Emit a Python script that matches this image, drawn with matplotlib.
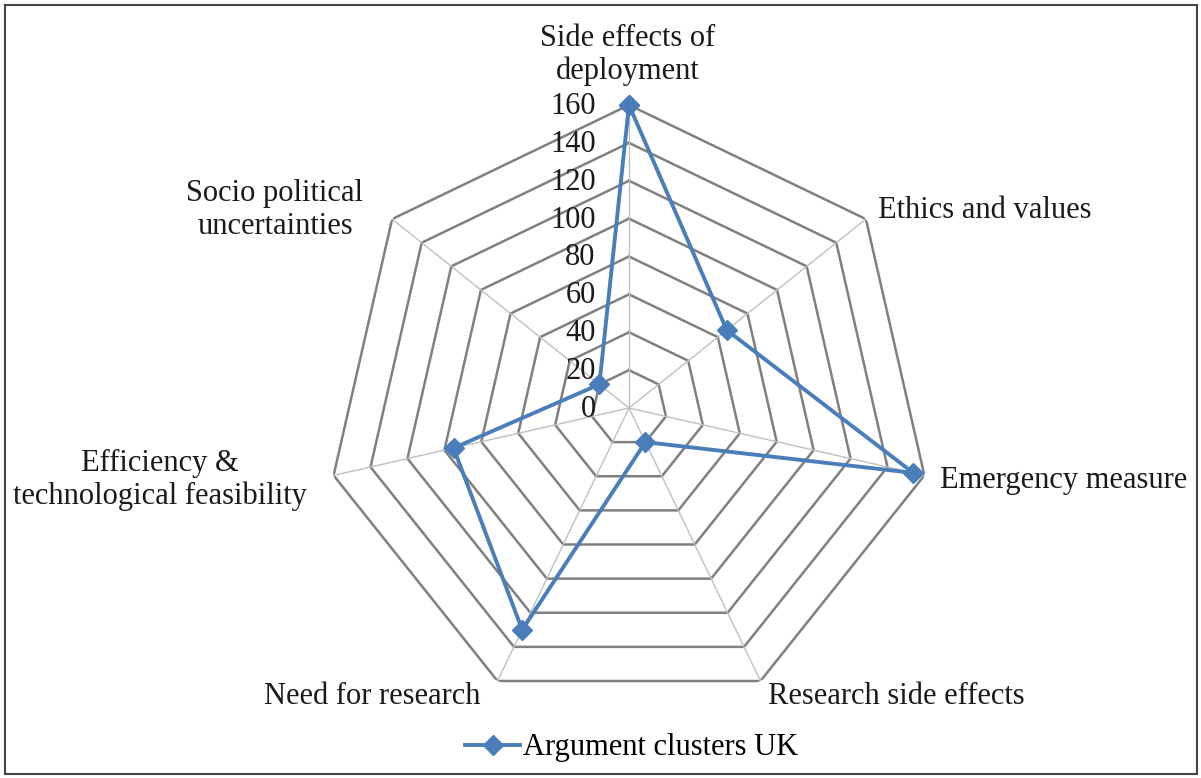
import numpy as np
import matplotlib.pyplot as plt
from matplotlib.patches import Rectangle

categories = ['Side effects of\ndeployment', 'Ethics and values', 'Emergency measure',
              'Research side effects', 'Need for research',
              'Efficiency &\ntechnological feasibility', 'Socio political\nuncertainties']
uk_counts = [160, 66, 154, 20, 130, 95, 20]
ring_levels = [0, 20, 40, 60, 80, 100, 120, 140, 160]
series_name = 'Argument clusters UK'

plt.rcParams['font.family'] = ['Liberation Serif', 'DejaVu Serif']

W, H = 1201, 778
fig = plt.figure(figsize=(W / 100, H / 100), dpi=100)

# polar axes centred on the web, radius = 160
cx, cy, rad = 629, 408, 303
ax = fig.add_axes([(cx - rad) / W, (H - cy - rad) / H, 2 * rad / W, 2 * rad / H],
                  projection='polar')
ax.set_theta_zero_location('N')
ax.set_theta_direction(-1)
ax.set_ylim(0, 160)
ax.grid(False)
ax.spines['polar'].set_visible(False)
ax.set_xticks([])
ax.set_yticks([])
ax.patch.set_alpha(0)

n = len(categories)
angles = np.linspace(0, 2 * np.pi, n, endpoint=False)
closed = np.append(angles, angles[0])

# heptagon rings and spokes
for lv in ring_levels[1:]:
    ax.plot(closed, [lv] * (n + 1), color='#808080', lw=1.8, zorder=1)
for a in angles:
    ax.plot([a, a], [0, 160], color='#c0c0c0', lw=1.0, zorder=1)

# value labels along the top spoke
for lv in ring_levels:
    ax.annotate(str(lv), (0, lv), xytext=(-24, -1), textcoords='offset points',
                ha='right', va='center', fontsize=22, color='#1a1a1a', zorder=3)

vals = uk_counts + uk_counts[:1]
ax.plot(closed, vals, color='#4a7ebb', lw=2.8, marker='D', markersize=10,
        zorder=4, label=series_name, clip_on=False)

# category labels
lab_pos = [(628, 55, 'center'), (878, 211, 'left'), (940, 481, 'left'),
           (768, 697, 'left'), (480, 697, 'right'), (160, 480, 'center'),
           (275, 210, 'center')]
for text, (x, y, ha) in zip(categories, lab_pos):
    fig.text(x / W, 1 - y / H, text, ha=ha, va='center', fontsize=22,
             color='#1a1a1a', linespacing=1.15, multialignment='center')

fig.legend(loc='center', bbox_to_anchor=(632 / W, 1 - 748 / H), frameon=False,
           fontsize=22, handlelength=1.8, handletextpad=0.1)

fig.patches.append(Rectangle((5 / W, 4 / H), 1192 / W, 769 / H, transform=fig.transFigure,
                             fill=False, edgecolor='#444444', lw=1.5))

fig.savefig('out.png', dpi=100)
